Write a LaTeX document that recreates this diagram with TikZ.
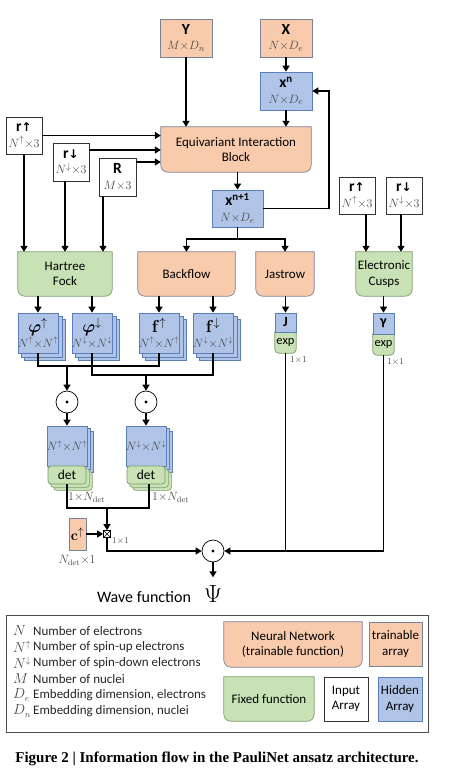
\documentclass[tikz,border=0pt]{standalone}
\usepackage[no-math]{fontspec}
\usepackage{amsmath,bm}
\setmainfont{Carlito}
\newfontfamily\capfont{Liberation Serif}
\newfontfamily\arrfont{DejaVu Sans}
\usetikzlibrary{arrows.meta,calc}
\pgfdeclarelayer{bg}
\pgfsetlayers{bg,main}
\definecolor{orf}{HTML}{F8CBAD}
\definecolor{orb}{HTML}{7A8396}
\definecolor{blf}{HTML}{B0C4E8}
\definecolor{blb}{HTML}{5B7DB8}
\definecolor{grf}{HTML}{C8E2B6}
\definecolor{grb}{HTML}{7E9C6C}
\definecolor{mgray}{HTML}{4A4A4A}
\newcommand\fsz[2]{\fontsize{#1}{#2}\selectfont}
\newcommand\upa{{\arrfont\bfseries\fsz{12}{12}↑}}
\newcommand\dna{{\arrfont\bfseries\fsz{12}{12}↓}}
\newcommand\blab[2]{{\fsz{15.5}{16}\bfseries #1}\\{\fsz{12.3}{13}\color{mgray}$#2$}}
\newcommand\symlab[2]{{\fsz{16.5}{16.5}$#1$}\\[-1pt]{\fsz{11.5}{12}\color{mgray}$#2$}}
\newcommand\rbot[4]{%
  \begin{pgfonlayer}{bg}
  \draw[fill=#2,draw=#3,line width=0.7pt] (#1.north west) -- (#1.north east)
    -- ([yshift=#4pt]#1.south east) arc[start angle=0,end angle=-90,radius=#4pt]
    -- ([xshift=#4pt]#1.south west) arc[start angle=270,end angle=180,radius=#4pt] -- cycle;
  \end{pgfonlayer}}
\newcommand\stk[2]{%
  \begin{pgfonlayer}{bg}
  \foreach \k in {2,1}{
    \draw[fill=blf,draw=blb,line width=0.6pt] ([shift={(\k*#2pt,-\k*#2pt)}]#1.north west) rectangle ([shift={(\k*#2pt,-\k*#2pt)}]#1.south east);
  }
  \end{pgfonlayer}}
\newcommand\detstk[3]{%
  \begin{pgfonlayer}{bg}
  \foreach \k in {2,1}{
    \draw[fill=blf,draw=blb,line width=0.6pt] ([shift={(\k*#3pt,-\k*#3pt)}]#1.north west) rectangle ([shift={(\k*#3pt,-\k*#3pt)}]#1.south east);
    \draw[fill=grf,draw=grb,line width=0.6pt,rounded corners=3pt] ([shift={(\k*#3pt,-\k*#3pt)}]#2.north west) rectangle ([shift={(\k*#3pt,-\k*#3pt)}]#2.south east);
  }
  \end{pgfonlayer}}
\tikzset{
  base/.style={inner sep=0pt, align=center, font=\fsz{13}{15.5}},
  inbox/.style={base, draw=black!80, line width=0.8pt, fill=white},
  orbox/.style={base, draw=orb, line width=0.7pt, fill=orf},
  blbox/.style={base, draw=blb, line width=0.7pt, fill=blf},
  grbox/.style={base, draw=grb, line width=0.7pt, fill=grf},
  fnbox/.style={base},
  arr/.style={line width=1.3pt, -{Triangle[length=6pt,width=7pt]}},
  ln/.style={line width=1.3pt},
  circ/.style={circle, draw, line width=0.7pt, minimum size=22pt, inner sep=0pt, fill=white},
  ml/.style={inner sep=0pt, font=\fsz{11.5}{12}, text=mgray},
  sl/.style={inner sep=0pt, font=\fsz{9}{10}, text=mgray},
  legsym/.style={inner sep=0pt, anchor=west, font=\fsz{13.5}{15}, text=mgray},
  legtxt/.style={inner sep=0pt, anchor=west, font=\fsz{13}{15}, text=black!85},
}
\begin{document}
\begin{tikzpicture}[x={(1pt,0)}, y={(0,-1pt)}]
\useasboundingbox (0,0) rectangle (453,783);
\begin{pgfonlayer}{bg}\fill[white] (0,0) rectangle (453,783);\end{pgfonlayer}

% top inputs
\node[orbox, minimum width=52pt, minimum height=38pt] (Y) at (186,38) {\blab{Y}{M{\times}D_n}};
\node[orbox, minimum width=52pt, minimum height=38pt] (X) at (286,38) {\blab{X}{N{\times}D_e}};
\node[blbox, minimum width=52pt, minimum height=38pt] (xn) at (286,91) {\blab{x\textsuperscript{n}}{N{\times}D_e}};
\node[fnbox, minimum width=150pt, minimum height=45pt] (eib) at (236,149.5) {Equivariant Interaction\\Block};
\rbot{eib}{orf}{orb}{7}
\node[blbox, minimum width=51pt, minimum height=37pt] (xn1) at (237.5,208.5) {\blab{x\textsuperscript{n+1}}{N{\times}D_e}};

\node[inbox, minimum width=36pt, minimum height=37pt] (ru1) at (24,135.5) {\blab{r\upa}{N^{\uparrow}{\times}3}};
\node[inbox, minimum width=36pt, minimum height=38pt] (rd1) at (71,162) {\blab{r\dna}{N^{\downarrow}{\times}3}};
\node[inbox, minimum width=37pt, minimum height=38pt] (R) at (117.5,177) {\blab{R}{M{\times}3}};
\node[inbox, minimum width=36pt, minimum height=37pt] (ru2) at (357,195.5) {\blab{r\upa}{N^{\uparrow}{\times}3}};
\node[inbox, minimum width=36pt, minimum height=37pt] (rd2) at (404,195.5) {\blab{r\dna}{N^{\downarrow}{\times}3}};

% function blocks
\node[fnbox, minimum width=94pt, minimum height=44pt] (hf) at (65,274) {Hartree\\Fock};
\rbot{hf}{grf}{grb}{7}
\node[fnbox, minimum width=97pt, minimum height=44pt] (bf) at (186.5,274) {Backflow};
\rbot{bf}{orf}{orb}{7}
\node[fnbox, minimum width=58pt, minimum height=44pt] (js) at (285,274) {Jastrow};
\rbot{js}{orf}{orb}{7}
\node[fnbox, minimum width=56pt, minimum height=44pt] (cusp) at (384,274) {Electronic\\Cusps};
\rbot{cusp}{grf}{grb}{7}

% stacks
\node[blbox, minimum width=40pt, minimum height=40pt] (phiu) at (38,333) {\symlab{\boldsymbol{\varphi}^{\uparrow}}{N^{\uparrow}{\times}N^{\uparrow}}};
\stk{phiu}{3.5}
\node[blbox, minimum width=40pt, minimum height=40pt] (phid) at (92,333) {\symlab{\boldsymbol{\varphi}^{\downarrow}}{N^{\downarrow}{\times}N^{\downarrow}}};
\stk{phid}{3.5}
\node[blbox, minimum width=40pt, minimum height=40pt] (fu) at (159,333) {\symlab{\mathbf{f}^{\uparrow}}{N^{\uparrow}{\times}N^{\uparrow}}};
\stk{fu}{3.5}
\node[blbox, minimum width=40pt, minimum height=40pt] (fd) at (213,333) {\symlab{\mathbf{f}^{\downarrow}}{N^{\downarrow}{\times}N^{\downarrow}}};
\stk{fd}{3.5}

\node[blbox, minimum width=21pt, minimum height=19pt, font=\fsz{14}{14}] (J) at (285.5,322.5) {\bfseries J};
\node[fnbox, minimum width=21pt, minimum height=21pt, font=\fsz{12.5}{13}] (Je) at (285.5,342.5) {exp};
\rbot{Je}{grf}{grb}{4}
\node[blbox, minimum width=21pt, minimum height=21pt, font=\fsz{14}{14}] (g) at (383.5,323.5) {\bfseries γ};
\node[fnbox, minimum width=21pt, minimum height=21pt, font=\fsz{12.5}{13}] (ge) at (383.5,344.5) {exp};
\rbot{ge}{grf}{grb}{4}

% products
\node[circ] (o1) at (67,402) {};
\node[circ] (o2) at (146,402) {};
\fill (o1) circle (1.6pt);
\fill (o2) circle (1.6pt);

\node[blbox, minimum width=40pt, minimum height=40pt, font=\fsz{11.5}{12}] (d1) at (67,446) {\color{mgray}$N^{\uparrow}{\times}N^{\uparrow}$};
\node[grbox, minimum width=38pt, minimum height=18pt, rounded corners=3pt, font=\fsz{13.5}{14}] (d1d) at (67,475) {det};
\detstk{d1}{d1d}{3}
\node[blbox, minimum width=40pt, minimum height=40pt, font=\fsz{11.5}{12}] (d2) at (146,446) {\color{mgray}$N^{\downarrow}{\times}N^{\downarrow}$};
\node[grbox, minimum width=38pt, minimum height=18pt, rounded corners=3pt, font=\fsz{13.5}{14}] (d2d) at (146,475) {det};
\detstk{d2}{d2d}{3}

\node[draw, line width=0.7pt, minimum size=7pt, inner sep=0pt, fill=white] (bx) at (107,534) {};
\draw[line width=0.6pt] (bx.north west) -- (bx.south east) (bx.north east) -- (bx.south west);
\node[orbox, minimum width=17pt, minimum height=32pt] (c) at (77.5,534) {\fsz{15}{15}$\mathbf{c}^{\uparrow}$};
\node[circ] (o3) at (213,551) {};
\fill (o3) circle (1.6pt);
\node[inner sep=0pt, inner ysep=8pt, font=\fsz{27}{27}] (psi) at (213,594) {$\Psi$};
\node[inner sep=0pt, font=\fsz{16}{18}] (wf) at (144,597) {Wave function};

% labels
\node[ml, anchor=west] (l1) at (68,497) {$1{\times}N_{\mathrm{det}}$};
\node[ml, anchor=west] (l2) at (152,497) {$1{\times}N_{\mathrm{det}}$};
\node[ml] (l3) at (77,560) {$N_{\mathrm{det}}{\times}1$};
\node[sl, anchor=west] (l4) at (112,541) {$1{\times}1$};
\node[sl, anchor=west] (l5) at (290,360) {$1{\times}1$};
\node[sl, anchor=west] (l6) at (387,362) {$1{\times}1$};

% connectors
\draw[arr] (Y.south) -- (Y.south |- eib.north);
\draw[arr] (X.south) -- (xn.north);
\draw[arr] (xn.south) -- (xn.south |- eib.north);
\draw[arr] (ru1.east) -- (ru1.east -| eib.west);
\coordinate (rd1o) at ([yshift=12pt]rd1.east);
\draw[arr] (rd1o) -- (rd1o -| eib.west);
\coordinate (Ro) at ([yshift=15pt]R.east);
\draw[arr] (Ro) -- (Ro -| eib.west);
\draw[arr] (ru1.south) -- (ru1.south |- hf.north);
\coordinate (rd1s) at ([xshift=-6pt]rd1.south);
\draw[arr] (rd1s) -- (rd1s |- hf.north);
\coordinate (Rs) at ([xshift=-14.5pt]R.south);
\draw[arr] (Rs) -- (Rs |- hf.north);
\draw[arr] (xn1.north |- eib.south) -- (xn1.north);
\coordinate (fb) at (329,91);
\draw[arr] (xn1.east) -| (fb) -- (xn.east);
\coordinate (sp) at (237.5,239);
\draw[ln] (xn1.south) -- (sp);
\draw[arr] (sp) -| (bf.north);
\draw[arr] (sp) -| (js.north);
\coordinate (ru2s) at ([xshift=9pt]ru2.south);
\draw[arr] (ru2s) -- (ru2s |- cusp.north);
\coordinate (rd2s) at ([xshift=-3pt]rd2.south);
\draw[arr] (rd2s) -- (rd2s |- cusp.north);
\draw[arr] (phiu.north |- hf.south) -- (phiu.north);
\draw[arr] (phid.north |- hf.south) -- (phid.north);
\draw[arr] (fu.north |- bf.south) -- (fu.north);
\draw[arr] (fd.north |- bf.south) -- (fd.north);
\draw[arr] (J.north |- js.south) -- (J.north);
\draw[arr] (g.north |- cusp.south) -- (g.north);
\coordinate (h1) at (67,366);
\draw[ln] (phiu.south) |- (h1) -| (fu.south);
\draw[arr] (h1) -- (o1.north);
\coordinate (h2) at (146,375);
\draw[ln] (phid.south) |- (h2) -| (fd.south);
\draw[arr] (h2) -- (o2.north);
\draw[arr] (o1.south) -- (d1.north);
\draw[arr] (o2.south) -- (d2.north);
\coordinate (h3) at (107,508);
\coordinate (d2o) at ([xshift=3pt]d2d.south);
\draw[ln] (d1d.south) |- (h3) -| (d2o);
\draw[arr] (h3) -- (bx.north);
\draw[arr] (c.east) -- (bx.west);
\draw[arr] (bx.south) |- (o3.west);
\draw[ln] (Je.south) -- (Je.south |- o3.east);
\draw[arr] (ge.south) |- (o3.east);
\draw[arr] (o3.south) -- (psi.north);

% legend
\node[draw=black!70, line width=0.9pt, minimum width=422pt, minimum height=117pt, inner sep=0pt] (leg) at (217,673.5) {};
\node[legsym] (s1) at (13,631) {$N$};
\node[legtxt] (t1) at (33,631) {Number of electrons};
\node[legsym] (s2) at (13,647) {$N^{\uparrow}$};
\node[legtxt] (t2) at (33,647) {Number of spin-up electrons};
\node[legsym] (s3) at (13,663) {$N^{\downarrow}$};
\node[legtxt] (t3) at (33,663) {Number of spin-down electrons};
\node[legsym] (s4) at (13,679) {$M$};
\node[legtxt] (t4) at (33,679) {Number of nuclei};
\node[legsym] (s5) at (13,695) {$D_e$};
\node[legtxt] (t5) at (33,695) {Embedding dimension, electrons};
\node[legsym] (s6) at (13,711) {$D_n$};
\node[legtxt] (t6) at (33,711) {Embedding dimension, nuclei};

\node[fnbox, minimum width=138pt, minimum height=45pt] (nn) at (293,644.5) {Neural Network\\(trainable function)};
\rbot{nn}{orf}{orb}{7}
\node[orbox, minimum width=53pt, minimum height=44pt] (ta) at (395.5,644) {trainable\\array};
\node[fnbox, minimum width=90pt, minimum height=44pt] (ff) at (269,699) {Fixed function};
\rbot{ff}{grf}{grb}{7}
\node[inbox, minimum width=44pt, minimum height=44pt] (ia) at (346,699) {Input\\Array};
\node[blbox, minimum width=44pt, minimum height=44pt] (ha) at (400,699) {Hidden\\Array};

\node[inner sep=0pt, font=\capfont\bfseries\fsz{15}{16}] (cap) at (217,759) {Figure 2 | Information flow in the PauliNet ansatz architecture.};
\end{tikzpicture}
\end{document}
